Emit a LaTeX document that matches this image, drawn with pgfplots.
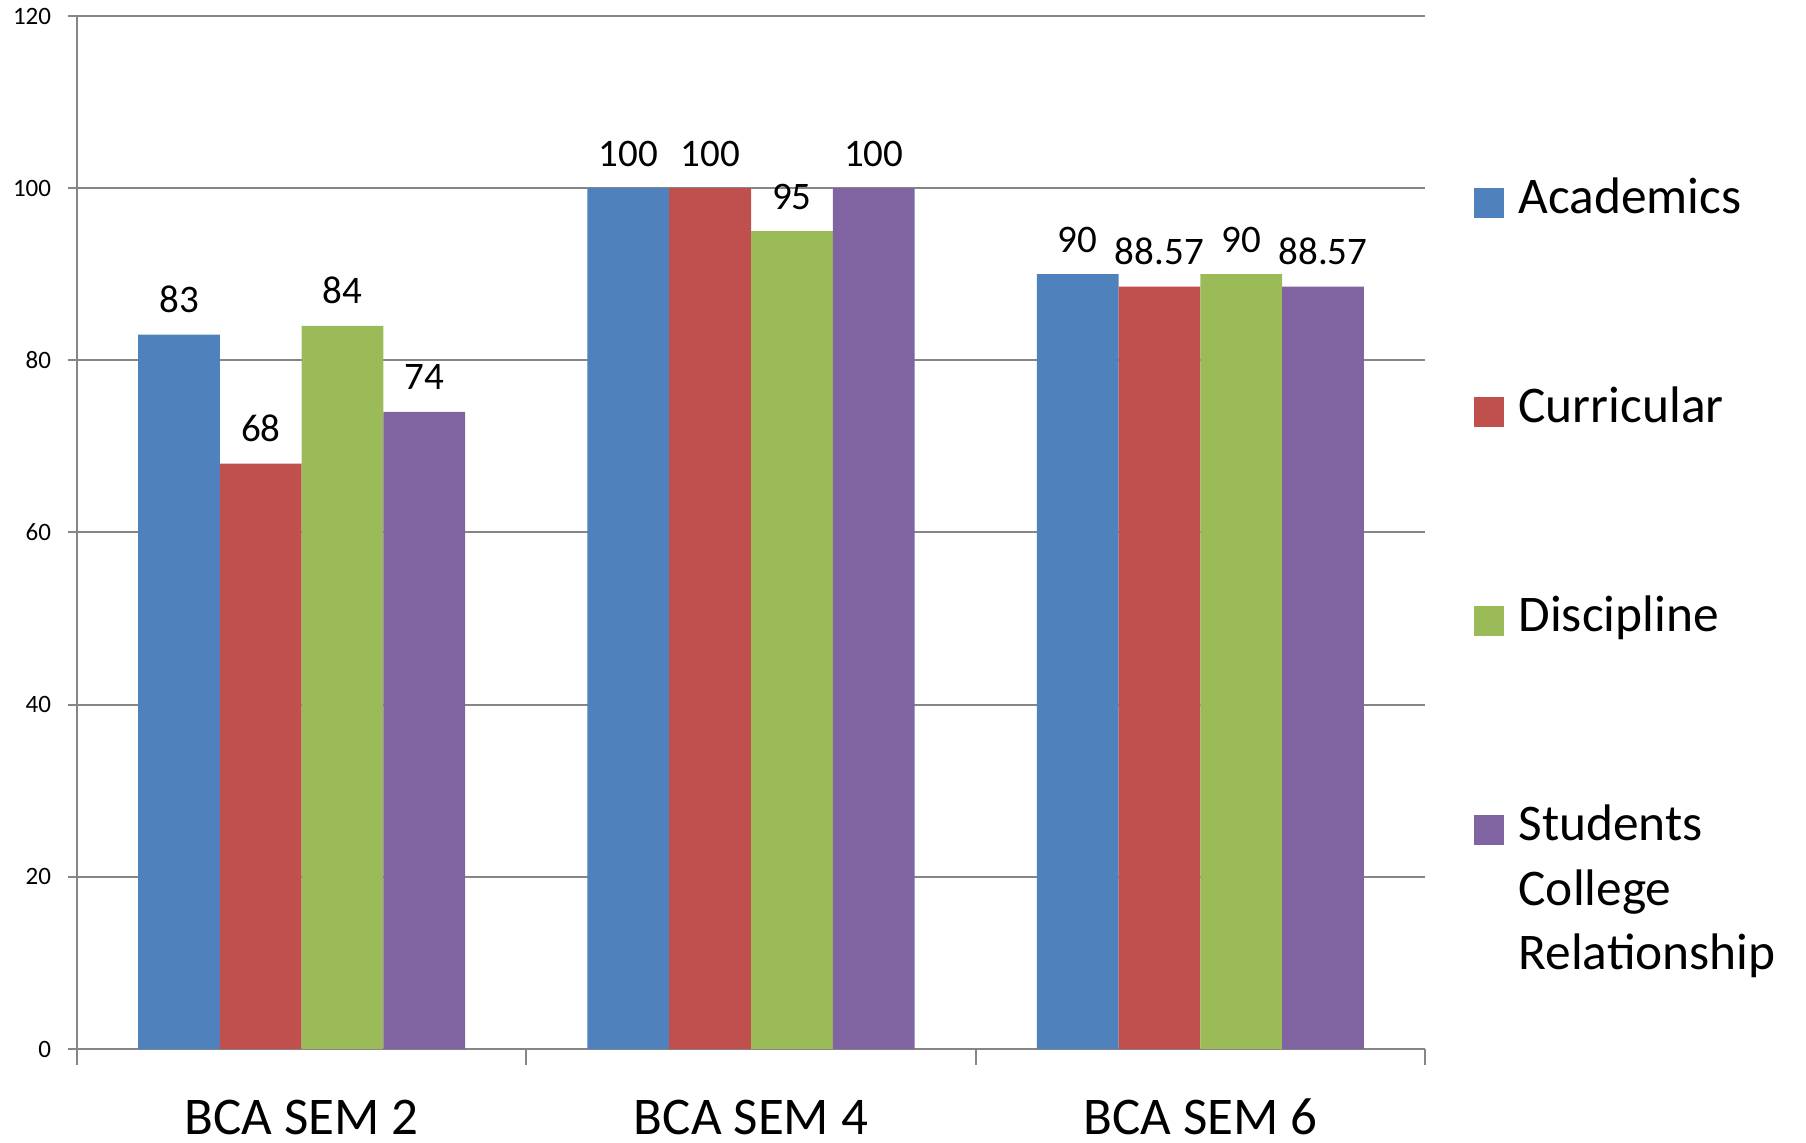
\documentclass[border=0pt]{standalone}
\usepackage{pgfplots}
\pgfplotsset{compat=1.18}
\usepackage{fontspec}
\setmainfont{Carlito}
\definecolor{cA}{HTML}{4F81BD}
\definecolor{cB}{HTML}{C0504D}
\definecolor{cC}{HTML}{9BBB59}
\definecolor{cD}{HTML}{8064A2}
\definecolor{gridgray}{HTML}{868686}
\begin{document}
\begin{tikzpicture}
\begin{axis}[
  scale only axis,
  width=674pt, height=516.5pt,
  xmin=-0.5, xmax=2.5, ymin=0, ymax=120,
  enlargelimits=false,
  clip=false,
  axis lines*=left,
  axis line style={gridgray, line width=1pt},
  ybar=0pt,
  bar width=0.182,
  xtick={-0.5,0.5,1.5,2.5},
  x tick label as interval=true,
  xticklabels={BCA SEM 2, BCA SEM 4, BCA SEM 6},
  ytick={0,20,...,120},
  tick align=outside,
  xtick style={gridgray, line width=1pt, /pgfplots/major tick length=8pt},
  ytick style={gridgray, line width=1pt, /pgfplots/major tick length=4.5pt},
  ymajorgrids=true,
  xmajorgrids=false,
  major grid style={gridgray, line width=1pt},
  /pgf/number format/assume math mode=true,
  xticklabel style={font=\fontsize{26.5}{31}\selectfont, anchor=base, inner sep=0pt, yshift=-38.5pt},
  yticklabel style={font=\fontsize{12.5}{15}\selectfont, anchor=east, inner sep=0pt, xshift=-8.5pt},
  nodes near coords,
  every node near coord/.append style={font=\fontsize{19.5}{23}\selectfont, anchor=base, inner sep=0pt, yshift=11pt, text=black},
  legend style={at={(1.0363,0.8437)}, anchor=north west, draw=none, inner sep=0pt, outer sep=0pt,
    row sep=84pt, column sep=7.3pt,
    font=\fontsize{25.7}{32.3}\selectfont,
    nodes={inner sep=0pt, text height=18pt, text depth=0pt},
    cells={anchor=base west}},
  legend image code/.code={\fill[#1] (0pt,-2.5pt) rectangle (15pt,12.5pt);},
]
\addplot[fill=cA, draw=none] coordinates {(0,83) (1,100) (2,90)};
\addplot[fill=cB, draw=none] coordinates {(0,68) (1,100) (2,88.57)};
\addplot[fill=cC, draw=none] coordinates {(0,84) (1,95) (2,90)};
\addplot[fill=cD, draw=none] coordinates {(0,74) (1,100) (2,88.57)};
\legend{Academics, Curricular, Discipline, {\begin{tabular}[t]{@{}l@{}}Students\\College\\Relationship\end{tabular}}}
\end{axis}
\pgfresetboundingbox
\useasboundingbox (-38.5pt,-46.5pt) rectangle (864.5pt,524.5pt);
\end{tikzpicture}
\end{document}
